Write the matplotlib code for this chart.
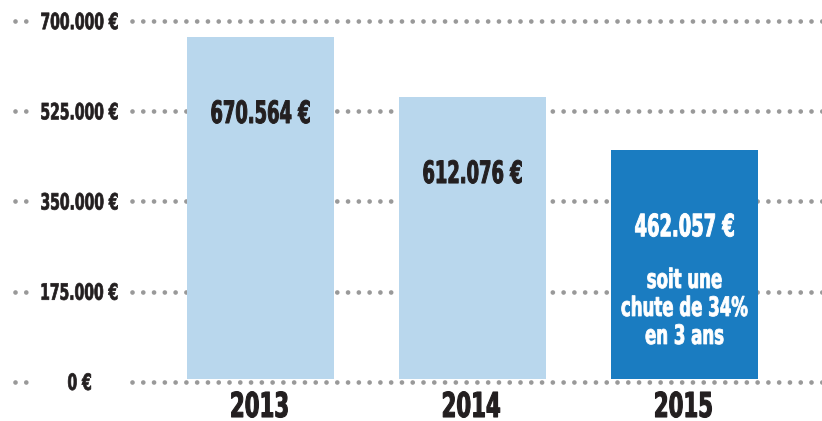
import matplotlib
matplotlib.use("Agg")
import matplotlib.pyplot as plt
from matplotlib.font_manager import FontProperties
from matplotlib.textpath import TextPath
from matplotlib.patches import PathPatch
from matplotlib.transforms import Affine2D

# données
years = ["2013", "2014", "2015"]
bar_heights = [669500, 553000, 449700]   # hauteurs telles que dessinées
value_labels = ["670.564 €", "612.076 €", "462.057 €"]
tick_values = [0, 175000, 350000, 525000, 700000]
tick_labels = ["0 €", "175.000 €", "350.000 €", "525.000 €", "700.000 €"]
note_lines = ["soit une", "chute de 34%", "en 3 ans"]

plt.rcParams['lines.scale_dashes'] = False

light = "#b9d7ed"
dark = "#1a7cc1"
ink = "#231f20"
grey = "#999999"

W, H = 822, 421
fig = plt.figure(figsize=(W / 100, H / 100), dpi=100)
ax = fig.add_axes([0, 39.3 / H, 1, 360.7 / H])

# pixel -> x data (barres espacées de 212 px, première centrée à 260.5 px)
def px(p):
    return (p - 260.5) / 212

ax.set_xlim(px(0), px(W))
ax.set_ylim(0, 700000)
ax.axis("off")

fp = FontProperties(family="DejaVu Sans", weight="bold")
CAP = 0.729

# texte condensé (façon Impact) : x centré, ligne de base en pixels depuis le haut
def ctext(xc, ybase_top, s, h, color, sx, stroke=0.6):
    size = h / CAP
    tp = TextPath((0, 0), s, size=1, prop=fp)
    ext = tp.get_extents()
    cx = (ext.x0 + ext.x1) / 2
    tr = Affine2D().translate(-cx, 0).scale(size * sx, size).translate(xc, H - ybase_top)
    fig.add_artist(PathPatch(tp, transform=tr, fc=color, ec=color, lw=stroke,
                             joinstyle="round", zorder=5))

def to_px(x, y):
    dx, dy = ax.transData.transform((x, y))
    return dx, H - dy

# grille pointillée, interrompue sous les étiquettes
for t, lab in zip(tick_values, tick_labels):
    for x0, x1 in [(px(15), px(27)), (px(131.7), px(W + 5))]:
        ax.plot([x0, x1], [t, t], color=grey, lw=3.4,
                linestyle=(0, (0.01, 7.75)), dash_capstyle="round",
                zorder=1, clip_on=False)
    _, yt = to_px(0, t)
    ctext(79.5, yt + 8.2, lab, 16.4, ink, 0.62, 0.5)

BAR_BASE = 5000
colors = [light, light, dark]
xs = list(range(len(years)))
ax.bar(xs, [h - BAR_BASE for h in bar_heights], bottom=BAR_BASE,
       width=147 / 212, color=colors, zorder=2)

for i, (v, lab) in enumerate(zip(bar_heights, value_labels)):
    c = "white" if i == 2 else ink
    xc, ytop = to_px(i, v)
    ctext(xc, ytop + 86.3, lab, 22.5, c, 0.58, 0.7)
    ctext(xc - 1, 417, years[i], 25, ink, 0.62, 0.8)

xc, ytop = to_px(2, bar_heights[2])
for k, line in enumerate(note_lines):
    ctext(xc, ytop + 138 + 28 * k, line, 19.5, "white", 0.62, 0.6)

fig.savefig("out.png", dpi=100)
